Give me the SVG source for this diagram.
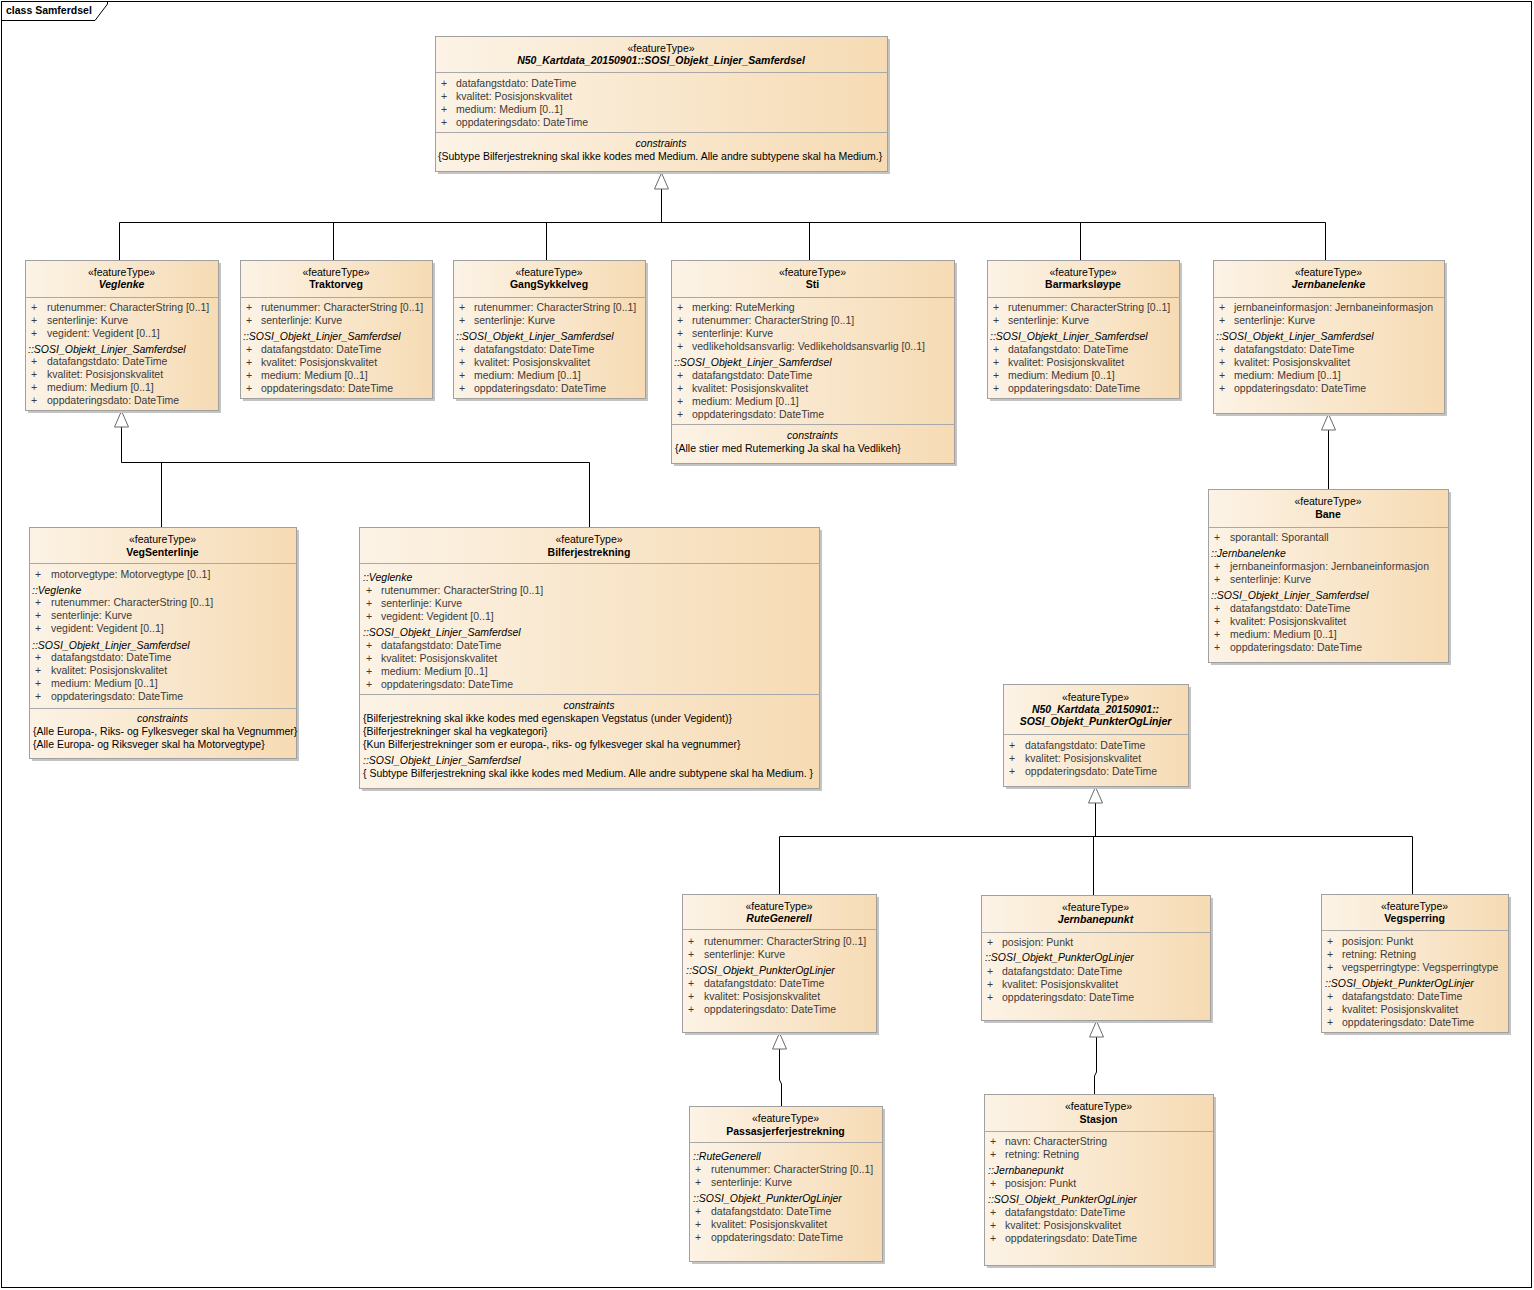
<svg xmlns="http://www.w3.org/2000/svg" width="1534" height="1290" viewBox="0 0 1534 1290">
<defs>
<linearGradient id="g" x1="0" y1="0" x2="1" y2="0">
<stop offset="0" stop-color="#fcf3e6"/>
<stop offset="1" stop-color="#f6dbb4"/>
</linearGradient>
<style>
text{font-family:"Liberation Sans",Arial,sans-serif;font-size:10.5px;fill:#000}
.bx{fill:url(#g);stroke:#a0a0a0;stroke-width:1}
.sh{fill:#c4c4c4}
.dv{stroke:#a8a8a8;stroke-width:1}
.c{text-anchor:middle}
.nm{font-weight:bold}
.ab{font-style:italic;font-weight:bold}
.at{fill:#3a3a3a}
.gr{font-style:italic}
.cl{font-style:italic;text-anchor:middle}
.ln{stroke:#000;stroke-width:1;fill:none}
.tri{fill:#fff;stroke:#6a6a6a;stroke-width:1}
.fr{fill:#fff;stroke:#000;stroke-width:1}
</style>
</defs>
<rect x="0" y="0" width="1534" height="1290" fill="#fff"/>
<g id="frame">
<rect class="fr" x="1.5" y="1.5" width="1530" height="1286"/>
<path class="ln" d="M1.5,20.5 H95 L107.5,4 V1.5"/>
<text x="6" y="14" class="nm">class Samferdsel</text>
</g>

<g id="connectors">
<polyline class="ln" points="661.5,189 661.5,222.5"/>
<polyline class="ln" points="119.5,222.5 1325.5,222.5"/>
<line class="ln" x1="119.5" y1="222.5" x2="119.5" y2="260"/>
<line class="ln" x1="333.5" y1="222.5" x2="333.5" y2="260"/>
<line class="ln" x1="546.5" y1="222.5" x2="546.5" y2="260"/>
<line class="ln" x1="809.5" y1="222.5" x2="809.5" y2="260"/>
<line class="ln" x1="1080.5" y1="222.5" x2="1080.5" y2="260"/>
<line class="ln" x1="1325.5" y1="222.5" x2="1325.5" y2="260"/>
<polygon class="tri" points="661.5,173 654.5,189 668.5,189"/>

<polyline class="ln" points="121.5,427 121.5,462.5 589.5,462.5 589.5,527"/>
<line class="ln" x1="161.5" y1="462.5" x2="161.5" y2="527"/>
<polygon class="tri" points="121.5,411 114.5,427 128.5,427"/>

<line class="ln" x1="1328.5" y1="430" x2="1328.5" y2="489"/>
<polygon class="tri" points="1328.5,414 1321.5,430 1335.5,430"/>

<polyline class="ln" points="1095.5,803 1095.5,836.5"/>
<polyline class="ln" points="779.5,894 779.5,836.5 1412.5,836.5 1412.5,894"/>
<line class="ln" x1="1093.5" y1="836.5" x2="1093.5" y2="895"/>
<polygon class="tri" points="1095.5,787 1088.5,803 1102.5,803"/>

<polyline class="ln" points="779.5,1049 779.5,1080 781.5,1084 781.5,1106"/>
<polygon class="tri" points="779.5,1033 772.5,1049 786.5,1049"/>

<polyline class="ln" points="1096.5,1037 1096.5,1072 1094.5,1076 1094.5,1094"/>
<polygon class="tri" points="1096.5,1021 1089.5,1037 1103.5,1037"/>
</g>

<g id="n-SOSI_Objekt_Linjer_Samferdsel">
<rect class="sh" x="438" y="39" width="452" height="135"/>
<rect class="bx" x="435.5" y="36.5" width="452" height="135"/>
<text class="c" x="661" y="52">«featureType»</text>
<text class="c ab" x="661" y="64">N50_Kartdata_20150901::SOSI_Objekt_Linjer_Samferdsel</text>
<line class="dv" x1="435.5" y1="72.5" x2="887.5" y2="72.5"/>
<text class="at" x="441" y="87">+</text><text class="at" x="456" y="87">datafangstdato: DateTime</text>
<text class="at" x="441" y="100">+</text><text class="at" x="456" y="100">kvalitet: Posisjonskvalitet</text>
<text class="at" x="441" y="113">+</text><text class="at" x="456" y="113">medium: Medium [0..1]</text>
<text class="at" x="441" y="126">+</text><text class="at" x="456" y="126">oppdateringsdato: DateTime</text>
<line class="dv" x1="435.5" y1="132.5" x2="887.5" y2="132.5"/>
<text class="cl" x="661" y="147">constraints</text>
<text x="438" y="160">{Subtype Bilferjestrekning skal ikke kodes med Medium. Alle andre subtypene skal ha Medium.}</text>
</g>

<g id="n-Veglenke">
<rect class="sh" x="28" y="263" width="193" height="150"/>
<rect class="bx" x="25.5" y="260.5" width="193" height="150"/>
<text class="c" x="121.5" y="276">«featureType»</text>
<text class="c ab" x="121.5" y="288">Veglenke</text>
<line class="dv" x1="25.5" y1="297.5" x2="218.5" y2="297.5"/>
<text class="at" x="31" y="311">+</text><text class="at" x="47" y="311">rutenummer: CharacterString [0..1]</text>
<text class="at" x="31" y="324">+</text><text class="at" x="47" y="324">senterlinje: Kurve</text>
<text class="at" x="31" y="337">+</text><text class="at" x="47" y="337">vegident: Vegident [0..1]</text>
<text class="gr" x="28" y="353">::SOSI_Objekt_Linjer_Samferdsel</text>
<text class="at" x="31" y="365">+</text><text class="at" x="47" y="365">datafangstdato: DateTime</text>
<text class="at" x="31" y="378">+</text><text class="at" x="47" y="378">kvalitet: Posisjonskvalitet</text>
<text class="at" x="31" y="391">+</text><text class="at" x="47" y="391">medium: Medium [0..1]</text>
<text class="at" x="31" y="404">+</text><text class="at" x="47" y="404">oppdateringsdato: DateTime</text>
</g>

<g id="n-Traktorveg">
<rect class="sh" x="243" y="263" width="192" height="138"/>
<rect class="bx" x="240.5" y="260.5" width="192" height="138"/>
<text class="c" x="336" y="276">«featureType»</text>
<text class="c nm" x="336" y="288">Traktorveg</text>
<line class="dv" x1="240.5" y1="297.5" x2="432.5" y2="297.5"/>
<text class="at" x="246" y="311">+</text><text class="at" x="261" y="311">rutenummer: CharacterString [0..1]</text>
<text class="at" x="246" y="324">+</text><text class="at" x="261" y="324">senterlinje: Kurve</text>
<text class="gr" x="243" y="340">::SOSI_Objekt_Linjer_Samferdsel</text>
<text class="at" x="246" y="353">+</text><text class="at" x="261" y="353">datafangstdato: DateTime</text>
<text class="at" x="246" y="366">+</text><text class="at" x="261" y="366">kvalitet: Posisjonskvalitet</text>
<text class="at" x="246" y="379">+</text><text class="at" x="261" y="379">medium: Medium [0..1]</text>
<text class="at" x="246" y="392">+</text><text class="at" x="261" y="392">oppdateringsdato: DateTime</text>
</g>

<g id="n-GangSykkelveg">
<rect class="sh" x="456" y="263" width="192" height="138"/>
<rect class="bx" x="453.5" y="260.5" width="192" height="138"/>
<text class="c" x="549" y="276">«featureType»</text>
<text class="c nm" x="549" y="288">GangSykkelveg</text>
<line class="dv" x1="453.5" y1="297.5" x2="645.5" y2="297.5"/>
<text class="at" x="459" y="311">+</text><text class="at" x="474" y="311">rutenummer: CharacterString [0..1]</text>
<text class="at" x="459" y="324">+</text><text class="at" x="474" y="324">senterlinje: Kurve</text>
<text class="gr" x="456" y="340">::SOSI_Objekt_Linjer_Samferdsel</text>
<text class="at" x="459" y="353">+</text><text class="at" x="474" y="353">datafangstdato: DateTime</text>
<text class="at" x="459" y="366">+</text><text class="at" x="474" y="366">kvalitet: Posisjonskvalitet</text>
<text class="at" x="459" y="379">+</text><text class="at" x="474" y="379">medium: Medium [0..1]</text>
<text class="at" x="459" y="392">+</text><text class="at" x="474" y="392">oppdateringsdato: DateTime</text>
</g>

<g id="n-Sti">
<rect class="sh" x="674" y="263" width="283" height="203"/>
<rect class="bx" x="671.5" y="260.5" width="283" height="203"/>
<text class="c" x="812.5" y="276">«featureType»</text>
<text class="c nm" x="812.5" y="288">Sti</text>
<line class="dv" x1="671.5" y1="297.5" x2="954.5" y2="297.5"/>
<text class="at" x="677" y="311">+</text><text class="at" x="692" y="311">merking: RuteMerking</text>
<text class="at" x="677" y="324">+</text><text class="at" x="692" y="324">rutenummer: CharacterString [0..1]</text>
<text class="at" x="677" y="337">+</text><text class="at" x="692" y="337">senterlinje: Kurve</text>
<text class="at" x="677" y="350">+</text><text class="at" x="692" y="350">vedlikeholdsansvarlig: Vedlikeholdsansvarlig [0..1]</text>
<text class="gr" x="674" y="366">::SOSI_Objekt_Linjer_Samferdsel</text>
<text class="at" x="677" y="379">+</text><text class="at" x="692" y="379">datafangstdato: DateTime</text>
<text class="at" x="677" y="392">+</text><text class="at" x="692" y="392">kvalitet: Posisjonskvalitet</text>
<text class="at" x="677" y="405">+</text><text class="at" x="692" y="405">medium: Medium [0..1]</text>
<text class="at" x="677" y="418">+</text><text class="at" x="692" y="418">oppdateringsdato: DateTime</text>
<line class="dv" x1="671.5" y1="424.5" x2="954.5" y2="424.5"/>
<text class="cl" x="812.5" y="439">constraints</text>
<text x="675" y="452">{Alle stier med Rutemerking Ja skal ha Vedlikeh}</text>
</g>

<g id="n-Barmarksloype">
<rect class="sh" x="990" y="263" width="192" height="138"/>
<rect class="bx" x="987.5" y="260.5" width="192" height="138"/>
<text class="c" x="1083" y="276">«featureType»</text>
<text class="c nm" x="1083" y="288">Barmarksløype</text>
<line class="dv" x1="987.5" y1="297.5" x2="1179.5" y2="297.5"/>
<text class="at" x="993" y="311">+</text><text class="at" x="1008" y="311">rutenummer: CharacterString [0..1]</text>
<text class="at" x="993" y="324">+</text><text class="at" x="1008" y="324">senterlinje: Kurve</text>
<text class="gr" x="990" y="340">::SOSI_Objekt_Linjer_Samferdsel</text>
<text class="at" x="993" y="353">+</text><text class="at" x="1008" y="353">datafangstdato: DateTime</text>
<text class="at" x="993" y="366">+</text><text class="at" x="1008" y="366">kvalitet: Posisjonskvalitet</text>
<text class="at" x="993" y="379">+</text><text class="at" x="1008" y="379">medium: Medium [0..1]</text>
<text class="at" x="993" y="392">+</text><text class="at" x="1008" y="392">oppdateringsdato: DateTime</text>
</g>

<g id="n-Jernbanelenke">
<rect class="sh" x="1216" y="263" width="231" height="153"/>
<rect class="bx" x="1213.5" y="260.5" width="231" height="153"/>
<text class="c" x="1328.5" y="276">«featureType»</text>
<text class="c ab" x="1328.5" y="288">Jernbanelenke</text>
<line class="dv" x1="1213.5" y1="297.5" x2="1444.5" y2="297.5"/>
<text class="at" x="1219" y="311">+</text><text class="at" x="1234" y="311">jernbaneinformasjon: Jernbaneinformasjon</text>
<text class="at" x="1219" y="324">+</text><text class="at" x="1234" y="324">senterlinje: Kurve</text>
<text class="gr" x="1216" y="340">::SOSI_Objekt_Linjer_Samferdsel</text>
<text class="at" x="1219" y="353">+</text><text class="at" x="1234" y="353">datafangstdato: DateTime</text>
<text class="at" x="1219" y="366">+</text><text class="at" x="1234" y="366">kvalitet: Posisjonskvalitet</text>
<text class="at" x="1219" y="379">+</text><text class="at" x="1234" y="379">medium: Medium [0..1]</text>
<text class="at" x="1219" y="392">+</text><text class="at" x="1234" y="392">oppdateringsdato: DateTime</text>
</g>

<g id="n-VegSenterlinje">
<rect class="sh" x="32" y="530" width="267" height="231"/>
<rect class="bx" x="29.5" y="527.5" width="267" height="231"/>
<text class="c" x="162.5" y="543">«featureType»</text>
<text class="c nm" x="162.5" y="556">VegSenterlinje</text>
<line class="dv" x1="29.5" y1="563.5" x2="296.5" y2="563.5"/>
<text class="at" x="35" y="578">+</text><text class="at" x="51" y="578">motorvegtype: Motorvegtype [0..1]</text>
<text class="gr" x="32" y="594">::Veglenke</text>
<text class="at" x="35" y="606">+</text><text class="at" x="51" y="606">rutenummer: CharacterString [0..1]</text>
<text class="at" x="35" y="619">+</text><text class="at" x="51" y="619">senterlinje: Kurve</text>
<text class="at" x="35" y="632">+</text><text class="at" x="51" y="632">vegident: Vegident [0..1]</text>
<text class="gr" x="32" y="649">::SOSI_Objekt_Linjer_Samferdsel</text>
<text class="at" x="35" y="661">+</text><text class="at" x="51" y="661">datafangstdato: DateTime</text>
<text class="at" x="35" y="674">+</text><text class="at" x="51" y="674">kvalitet: Posisjonskvalitet</text>
<text class="at" x="35" y="687">+</text><text class="at" x="51" y="687">medium: Medium [0..1]</text>
<text class="at" x="35" y="700">+</text><text class="at" x="51" y="700">oppdateringsdato: DateTime</text>
<line class="dv" x1="29.5" y1="708.5" x2="296.5" y2="708.5"/>
<text class="cl" x="162.5" y="722">constraints</text>
<text x="33" y="735">{Alle Europa-, Riks- og Fylkesveger skal ha Vegnummer}</text>
<text x="33" y="748">{Alle Europa- og Riksveger skal ha Motorvegtype}</text>
</g>

<g id="n-Bilferjestrekning">
<rect class="sh" x="362" y="530" width="460" height="261"/>
<rect class="bx" x="359.5" y="527.5" width="460" height="261"/>
<text class="c" x="589" y="543">«featureType»</text>
<text class="c nm" x="589" y="556">Bilferjestrekning</text>
<line class="dv" x1="359.5" y1="563.5" x2="819.5" y2="563.5"/>
<text class="gr" x="363" y="581">::Veglenke</text>
<text class="at" x="366" y="594">+</text><text class="at" x="381" y="594">rutenummer: CharacterString [0..1]</text>
<text class="at" x="366" y="607">+</text><text class="at" x="381" y="607">senterlinje: Kurve</text>
<text class="at" x="366" y="620">+</text><text class="at" x="381" y="620">vegident: Vegident [0..1]</text>
<text class="gr" x="363" y="636">::SOSI_Objekt_Linjer_Samferdsel</text>
<text class="at" x="366" y="649">+</text><text class="at" x="381" y="649">datafangstdato: DateTime</text>
<text class="at" x="366" y="662">+</text><text class="at" x="381" y="662">kvalitet: Posisjonskvalitet</text>
<text class="at" x="366" y="675">+</text><text class="at" x="381" y="675">medium: Medium [0..1]</text>
<text class="at" x="366" y="688">+</text><text class="at" x="381" y="688">oppdateringsdato: DateTime</text>
<line class="dv" x1="359.5" y1="694.5" x2="819.5" y2="694.5"/>
<text class="cl" x="589" y="709">constraints</text>
<text x="363" y="722">{Bilferjestrekning skal ikke kodes med egenskapen Vegstatus (under Vegident)}</text>
<text x="363" y="735">{Bilferjestrekninger skal ha vegkategori}</text>
<text x="363" y="748">{Kun Bilferjestrekninger som er europa-, riks- og fylkesveger skal ha vegnummer}</text>
<text class="gr" x="363" y="764">::SOSI_Objekt_Linjer_Samferdsel</text>
<text x="363" y="777">{ Subtype Bilferjestrekning skal ikke kodes med Medium. Alle andre subtypene skal ha Medium. }</text>
</g>

<g id="n-Bane">
<rect class="sh" x="1211" y="492" width="240" height="173"/>
<rect class="bx" x="1208.5" y="489.5" width="240" height="173"/>
<text class="c" x="1328" y="505">«featureType»</text>
<text class="c nm" x="1328" y="518">Bane</text>
<line class="dv" x1="1208.5" y1="527.5" x2="1448.5" y2="527.5"/>
<text class="at" x="1214" y="541">+</text><text class="at" x="1230" y="541">sporantall: Sporantall</text>
<text class="gr" x="1211" y="557">::Jernbanelenke</text>
<text class="at" x="1214" y="570">+</text><text class="at" x="1230" y="570">jernbaneinformasjon: Jernbaneinformasjon</text>
<text class="at" x="1214" y="583">+</text><text class="at" x="1230" y="583">senterlinje: Kurve</text>
<text class="gr" x="1211" y="599">::SOSI_Objekt_Linjer_Samferdsel</text>
<text class="at" x="1214" y="612">+</text><text class="at" x="1230" y="612">datafangstdato: DateTime</text>
<text class="at" x="1214" y="625">+</text><text class="at" x="1230" y="625">kvalitet: Posisjonskvalitet</text>
<text class="at" x="1214" y="638">+</text><text class="at" x="1230" y="638">medium: Medium [0..1]</text>
<text class="at" x="1214" y="651">+</text><text class="at" x="1230" y="651">oppdateringsdato: DateTime</text>
</g>

<g id="n-SOSI_Objekt_PunkterOgLinjer">
<rect class="sh" x="1006" y="687" width="185" height="102"/>
<rect class="bx" x="1003.5" y="684.5" width="185" height="102"/>
<text class="c" x="1095.5" y="701">«featureType»</text>
<text class="c ab" x="1095.5" y="713">N50_Kartdata_20150901::</text>
<text class="c ab" x="1095.5" y="725">SOSI_Objekt_PunkterOgLinjer</text>
<line class="dv" x1="1003.5" y1="734.5" x2="1188.5" y2="734.5"/>
<text class="at" x="1009" y="749">+</text><text class="at" x="1025" y="749">datafangstdato: DateTime</text>
<text class="at" x="1009" y="762">+</text><text class="at" x="1025" y="762">kvalitet: Posisjonskvalitet</text>
<text class="at" x="1009" y="775">+</text><text class="at" x="1025" y="775">oppdateringsdato: DateTime</text>
</g>

<g id="n-RuteGenerell">
<rect class="sh" x="685" y="897" width="194" height="138"/>
<rect class="bx" x="682.5" y="894.5" width="194" height="138"/>
<text class="c" x="779" y="910">«featureType»</text>
<text class="c ab" x="779" y="922">RuteGenerell</text>
<line class="dv" x1="682.5" y1="929.5" x2="876.5" y2="929.5"/>
<text class="at" x="688" y="945">+</text><text class="at" x="704" y="945">rutenummer: CharacterString [0..1]</text>
<text class="at" x="688" y="958">+</text><text class="at" x="704" y="958">senterlinje: Kurve</text>
<text class="gr" x="686" y="974">::SOSI_Objekt_PunkterOgLinjer</text>
<text class="at" x="688" y="987">+</text><text class="at" x="704" y="987">datafangstdato: DateTime</text>
<text class="at" x="688" y="1000">+</text><text class="at" x="704" y="1000">kvalitet: Posisjonskvalitet</text>
<text class="at" x="688" y="1013">+</text><text class="at" x="704" y="1013">oppdateringsdato: DateTime</text>
</g>

<g id="n-Jernbanepunkt">
<rect class="sh" x="984" y="898" width="229" height="125"/>
<rect class="bx" x="981.5" y="895.5" width="229" height="125"/>
<text class="c" x="1095.5" y="911">«featureType»</text>
<text class="c ab" x="1095.5" y="923">Jernbanepunkt</text>
<line class="dv" x1="981.5" y1="932.5" x2="1210.5" y2="932.5"/>
<text class="at" x="987" y="946">+</text><text class="at" x="1002" y="946">posisjon: Punkt</text>
<text class="gr" x="985" y="961">::SOSI_Objekt_PunkterOgLinjer</text>
<text class="at" x="987" y="975">+</text><text class="at" x="1002" y="975">datafangstdato: DateTime</text>
<text class="at" x="987" y="988">+</text><text class="at" x="1002" y="988">kvalitet: Posisjonskvalitet</text>
<text class="at" x="987" y="1001">+</text><text class="at" x="1002" y="1001">oppdateringsdato: DateTime</text>
</g>

<g id="n-Vegsperring">
<rect class="sh" x="1324" y="897" width="187" height="138"/>
<rect class="bx" x="1321.5" y="894.5" width="187" height="138"/>
<text class="c" x="1414.5" y="910">«featureType»</text>
<text class="c nm" x="1414.5" y="922">Vegsperring</text>
<line class="dv" x1="1321.5" y1="930.5" x2="1508.5" y2="930.5"/>
<text class="at" x="1327" y="945">+</text><text class="at" x="1342" y="945">posisjon: Punkt</text>
<text class="at" x="1327" y="958">+</text><text class="at" x="1342" y="958">retning: Retning</text>
<text class="at" x="1327" y="971">+</text><text class="at" x="1342" y="971">vegsperringtype: Vegsperringtype</text>
<text class="gr" x="1325" y="987">::SOSI_Objekt_PunkterOgLinjer</text>
<text class="at" x="1327" y="1000">+</text><text class="at" x="1342" y="1000">datafangstdato: DateTime</text>
<text class="at" x="1327" y="1013">+</text><text class="at" x="1342" y="1013">kvalitet: Posisjonskvalitet</text>
<text class="at" x="1327" y="1026">+</text><text class="at" x="1342" y="1026">oppdateringsdato: DateTime</text>
</g>

<g id="n-Passasjerferjestrekning">
<rect class="sh" x="692" y="1109" width="193" height="155"/>
<rect class="bx" x="689.5" y="1106.5" width="193" height="155"/>
<text class="c" x="785.5" y="1122">«featureType»</text>
<text class="c nm" x="785.5" y="1135">Passasjerferjestrekning</text>
<line class="dv" x1="689.5" y1="1142.5" x2="882.5" y2="1142.5"/>
<text class="gr" x="693" y="1160">::RuteGenerell</text>
<text class="at" x="695" y="1173">+</text><text class="at" x="711" y="1173">rutenummer: CharacterString [0..1]</text>
<text class="at" x="695" y="1186">+</text><text class="at" x="711" y="1186">senterlinje: Kurve</text>
<text class="gr" x="693" y="1202">::SOSI_Objekt_PunkterOgLinjer</text>
<text class="at" x="695" y="1215">+</text><text class="at" x="711" y="1215">datafangstdato: DateTime</text>
<text class="at" x="695" y="1228">+</text><text class="at" x="711" y="1228">kvalitet: Posisjonskvalitet</text>
<text class="at" x="695" y="1241">+</text><text class="at" x="711" y="1241">oppdateringsdato: DateTime</text>
</g>

<g id="n-Stasjon">
<rect class="sh" x="987" y="1097" width="229" height="171"/>
<rect class="bx" x="984.5" y="1094.5" width="229" height="171"/>
<text class="c" x="1098.5" y="1110">«featureType»</text>
<text class="c nm" x="1098.5" y="1123">Stasjon</text>
<line class="dv" x1="984.5" y1="1131.5" x2="1213.5" y2="1131.5"/>
<text class="at" x="990" y="1145">+</text><text class="at" x="1005" y="1145">navn: CharacterString</text>
<text class="at" x="990" y="1158">+</text><text class="at" x="1005" y="1158">retning: Retning</text>
<text class="gr" x="988" y="1174">::Jernbanepunkt</text>
<text class="at" x="990" y="1187">+</text><text class="at" x="1005" y="1187">posisjon: Punkt</text>
<text class="gr" x="988" y="1203">::SOSI_Objekt_PunkterOgLinjer</text>
<text class="at" x="990" y="1216">+</text><text class="at" x="1005" y="1216">datafangstdato: DateTime</text>
<text class="at" x="990" y="1229">+</text><text class="at" x="1005" y="1229">kvalitet: Posisjonskvalitet</text>
<text class="at" x="990" y="1242">+</text><text class="at" x="1005" y="1242">oppdateringsdato: DateTime</text>
</g>
</svg>
